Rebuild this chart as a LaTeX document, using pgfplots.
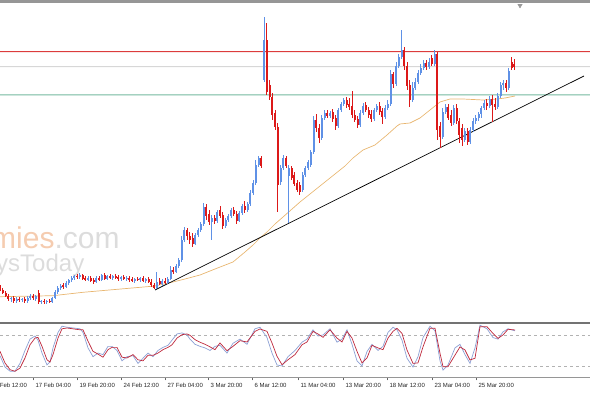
\documentclass[border=0pt]{standalone}
\usepackage{pgfplots}
\pgfplotsset{compat=1.18}
\usepackage{pgfplotstable}
\usepackage{fontspec}
\setmainfont{Liberation Sans}
\definecolor{bull}{RGB}{95,145,230}
\definecolor{bear}{RGB}{220,25,25}
\definecolor{maline}{RGB}{232,182,112}
\definecolor{levelred}{RGB}{220,60,60}
\definecolor{levelgreen}{RGB}{115,185,158}
\definecolor{levelgray}{RGB}{215,215,215}
\definecolor{stD}{RGB}{190,40,60}
\definecolor{stK}{RGB}{140,160,212}
\definecolor{framegray}{RGB}{150,150,150}
\pgfplotstableread{
i o h l c
0 287 285 291 290
1 290 288 294 293
2 293 291 297 296
3 296 294 301 299
4 299 297 302 298
5 298 296 303 301
6 301 297 303 299
7 299 297 302 300
8 300 298 302 299
9 299 297 303 301
10 301 296 303 298
11 298 294 300 296
12 296 294 300 298
13 299 295 301 296
14 293 290 304 302
15 302 300 304 301
16 301 299 304 302
17 302 300 304 301
18 301 299 303 302
19 302 297 303 298
20 298 290 299 292
21 292 286 294 288
22 288 284 290 286
23 285 283 289 287
24 287 281 288 283
25 283 279 285 280
26 280 276 282 278
27 278 275 280 276
28 276 274 279 277
29 277 273 279 275
30 275 274 280 279
31 278 276 281 280
32 280 276 281 278
33 278 276 282 281
34 280 278 284 282
35 282 276 283 278
36 278 276 281 280
37 280 274 281 275
38 275 273 280 279
39 279 275 280 276
40 276 274 279 278
41 278 275 280 276
42 276 274 279 278
43 277 275 281 279
44 279 276 281 277
45 277 275 280 279
46 279 276 281 278
47 278 276 282 280
48 279 277 282 281
49 281 278 283 279
50 279 277 281 280
51 280 277 282 278
52 278 276 282 281
53 281 278 283 279
54 279 277 283 282
55 282 279 287 285
56 285 283 289 288
57 288 272 289 282
58 281 278 285 284
59 284 279 286 281
60 281 278 284 283
61 283 277 284 279
62 279 266 280 270
63 270 267 274 272
64 272 264 273 266
65 266 258 268 260
66 260 236 262 240
67 240 227 242 230
68 230 228 240 236
69 236 232 244 240
70 238 233 247 244
71 244 233 245 235
72 235 228 237 230
73 230 222 232 224
74 224 203 226 207
75 207 204 220 216
76 214 210 225 222
77 222 215 240 218
78 218 215 224 221
79 221 210 223 212
80 210 206 218 216
81 215 212 229 226
82 226 218 228 220
83 220 214 222 216
84 216 208 218 210
85 210 207 216 214
86 214 211 224 221
87 221 211 222 213
88 213 204 215 206
89 206 201 213 210
90 210 202 212 204
91 204 190 206 193
92 193 180 195 183
93 183 160 185 165
94 165 156 167 158
95 158 156 168 166
96 80 17 82 40
97 40 23 95 92
98 85 80 100 97
99 97 93 120 115
100 113 110 130 127
101 127 123 212 185
102 182 165 185 168
103 168 155 170 158
104 158 156 168 166
105 176 165 223 168
106 168 166 180 178
107 175 172 186 184
108 183 180 192 190
109 185 182 195 192
110 190 172 192 175
111 175 166 177 168
112 168 160 170 162
113 165 150 167 152
114 152 116 154 120
115 120 114 132 128
116 128 124 143 138
117 138 115 140 118
118 118 110 120 113
119 113 110 118 116
120 116 111 118 113
121 112 109 122 119
122 118 115 130 126
123 126 108 128 110
124 110 102 112 104
125 104 98 106 100
126 100 97 108 105
127 104 98 110 107
128 106 91 118 115
129 115 110 122 120
130 119 116 128 125
131 125 110 127 113
132 113 103 115 106
133 105 102 112 110
134 110 107 118 115
135 114 110 122 119
136 119 108 121 110
137 110 104 112 106
138 106 102 115 112
139 111 108 124 117
140 117 105 119 108
141 108 100 110 104
142 104 70 106 74
143 74 72 88 84
144 84 62 86 66
145 66 54 68 57
146 57 30 59 50
147 50 47 70 66
148 66 62 90 86
149 85 80 107 100
150 100 82 102 88
151 88 78 90 82
152 82 70 84 73
153 73 64 75 68
154 68 60 70 63
155 63 60 70 67
156 67 58 69 62
157 58 55 66 64
158 64 50 66 54
159 54 52 140 130
160 126 122 148 137
161 137 108 139 112
162 112 104 114 107
163 107 104 120 118
164 115 110 126 123
165 123 105 125 108
166 108 104 124 121
167 121 118 143 135
168 128 124 146 140
169 140 128 142 131
170 131 128 145 142
171 142 127 144 130
172 130 118 132 121
173 121 115 124 118
174 118 112 121 114
175 114 106 118 108
176 108 100 110 103
177 103 99 110 106
178 106 96 108 99
179 99 95 122 105
180 104 98 110 107
181 107 93 109 96
182 96 82 98 85
183 85 80 90 83
184 83 80 92 88
185 88 68 90 71
186 62 57 70 68
187 64 59 70 67
}\candles
\begin{document}
\begin{tikzpicture}
\begin{axis}[
  at={(0pt,75pt)}, anchor=south west, scale only axis,
  width=590pt, height=318pt,
  xmin=0, xmax=590, ymin=0, ymax=318, y dir=reverse,
  hide axis, clip=true]
% watermark
\node[anchor=base west, font=\fontsize{30}{30}\selectfont, inner sep=0pt] at (axis cs:-9,249)
  {\textcolor[RGB]{245,204,176}{mies}\textcolor[RGB]{220,220,220}{.com}};
\node[anchor=base west, font=\fontsize{24}{24}\selectfont, inner sep=0pt, text={rgb,255:red,220;green,220;blue,220}] at (axis cs:-4,272)
  {ysToday};
% top frame and marker
\addplot[draw=framegray, mark=none, line width=3pt] coordinates {(0,1.5) (590,1.5)};
\addplot[only marks, mark=triangle*, mark size=2.5pt, mark options={rotate=180, fill=gray!80, draw=gray!80}] coordinates {(520,5.5)};
% horizontal levels (thin filled bands)
\addplot[fill=levelred, draw=none, mark=none] coordinates {(0,51.2) (590,51.2) (590,52.2) (0,52.2) (0,51.2)};
\addplot[fill=levelgray, draw=none, mark=none] coordinates {(0,66.2) (590,66.2) (590,67.2) (0,67.2) (0,66.2)};
\addplot[fill=levelgreen, draw=none, mark=none] coordinates {(0,94.5) (590,94.5) (590,95.5) (0,95.5) (0,94.5)};
% moving average
\addplot[draw=maline, mark=none, line width=0.7pt] coordinates {
(0,296.7) (53,295.7) (83,292.3) (155,286) (173,282) (185,279) (200,275) (215,269)
(233,262) (245,252) (253,245) (260,238) (267,232) (275,224) (283,217) (300,202)
(315,190) (330,178) (345,166) (353,158) (363,150) (375,145) (387,135) (397,126)
(400,124) (410,123) (420,118) (430,110) (440,102) (450,99) (463,99) (483,100)
(497,99) (505,98) (515,96)};
% trend line
\addplot[draw=black, mark=none, line width=0.7pt] coordinates {(155,290) (584,76)};
% wicks
\addplot[draw=none, mark=none, forget plot, error bars/.cd, y dir=both, y explicit, error mark=none,
  error bar style={draw=bull, line width=0.7pt}]
  table[x expr={\thisrow{c}<\thisrow{o} ? 2.75*\thisrow{i} : nan}, y expr={(\thisrow{h}+\thisrow{l})/2}, y error expr={(\thisrow{l}-\thisrow{h})/2}] {\candles};
\addplot[draw=none, mark=none, forget plot, error bars/.cd, y dir=both, y explicit, error mark=none,
  error bar style={draw=bear, line width=0.7pt}]
  table[x expr={\thisrow{c}<\thisrow{o} ? nan : 2.75*\thisrow{i}}, y expr={(\thisrow{h}+\thisrow{l})/2}, y error expr={(\thisrow{l}-\thisrow{h})/2}] {\candles};
% bodies
\addplot[draw=none, mark=none, forget plot, error bars/.cd, y dir=both, y explicit, error mark=none,
  error bar style={draw=bull, line width=2pt}]
  table[x expr={\thisrow{c}<\thisrow{o} ? 2.75*\thisrow{i} : nan}, y expr={(\thisrow{o}+\thisrow{c})/2}, y error expr={max(abs(\thisrow{o}-\thisrow{c})/2,0.6)}] {\candles};
\addplot[draw=none, mark=none, forget plot, error bars/.cd, y dir=both, y explicit, error mark=none,
  error bar style={draw=bear, line width=2pt}]
  table[x expr={\thisrow{c}<\thisrow{o} ? nan : 2.75*\thisrow{i}}, y expr={(\thisrow{o}+\thisrow{c})/2}, y error expr={max(abs(\thisrow{o}-\thisrow{c})/2,0.6)}] {\candles};
\end{axis}
\begin{axis}[
  at={(-20pt,16pt)}, anchor=south west, scale only axis,
  width=610pt, height=54pt,
  xmin=-20, xmax=590, ymin=-1.3, ymax=103.2,
  axis line style={draw=none}, ytick=\empty,
  xtick={-11,33,77,121,165,208,252,298,343,387,432,476},
  xticklabels={12 Feb 12:00,17 Feb 04:00,19 Feb 20:00,24 Feb 12:00,27 Feb 04:00,3 Mar 20:00,6 Mar 12:00,11 Mar 04:00,13 Mar 20:00,18 Mar 12:00,23 Mar 04:00,25 Mar 20:00},
  xtick pos=lower, tick align=outside, major tick length=3.5pt,
  xtick style={draw=black!60, line width=0.6pt},
  xticklabel style={anchor=west, yshift=-4.5pt, xshift=-1pt, font=\fontsize{6}{7}\selectfont, text=black!85},
  clip=false]
\addplot[draw=black!55, mark=none, line width=1.5pt] coordinates {(-20,103.2) (590,103.2)};
\addplot[draw=framegray, mark=none, line width=0.8pt] coordinates {(-20,-1.3) (590,-1.3)};
\addplot[draw=black!30, mark=none, dashed, line width=0.5pt] coordinates {(0,80) (590,80)};
\addplot[draw=black!30, mark=none, dashed, line width=0.5pt] coordinates {(0,20) (590,20)};
\addplot[draw=stK, mark=none, line width=0.7pt] coordinates {
(0,40)(5,18)(10,10)(15,10)(20,25)(25,50)(30,72)(35,78)(38,70)(42,45)(47,22)(50,28)(53,55)(58,85)(62,97)(67,95)(80,92)(83,85)(88,55)(93,38)(98,45)(103,42)(108,58)(112,58)(117,50)(122,30)(127,38)(133,40)(138,25)(143,35)(148,45)(153,38)(158,50)(163,56)(168,60)(172,70)(177,82)(182,84)(187,80)(190,72)(195,62)(200,58)(205,55)(210,50)(215,58)(220,60)(227,45)(233,64)(240,72)(247,62)(255,92)(260,95)(267,75)(272,45)(277,22)(282,20)(288,38)(295,50)(302,66)(307,72)(313,90)(318,78)(323,80)(330,92)(337,66)(342,72)(347,90)(352,62)(357,30)(362,20)(367,48)(372,62)(378,50)(383,58)(388,85)(393,95)(397,90)(402,70)(407,35)(413,18)(418,38)(423,75)(430,97)(435,88)(440,30)(443,12)(448,22)(455,55)(460,62)(465,42)(470,25)(475,55)(480,99)(487,92)(493,75)(498,72)(503,86)(508,92)(515,88)};
\addplot[draw=stD, mark=none, line width=0.7pt] coordinates {
(0,48.4)(5,25.8)(10,12.9)(15,9.8)(20,16)(25,35.5)(30,61)(35,74)(38,75.5)(42,58)(47,32)(50,27.7)(53,42)(58,74)(62,92)(67,93.5)(80,90)(83,90)(88,68)(93,48.4)(98,43)(103,37)(108,51.6)(112,56)(117,56)(122,37)(127,35.5)(133,42)(138,32)(143,30)(148,40.6)(153,40.6)(158,45)(163,51.6)(168,56)(172,61)(177,74)(182,80.6)(187,82)(190,79.4)(195,71)(200,66)(205,62)(210,57)(215,51.6)(220,64.5)(227,49.6)(233,58)(240,69)(247,66.5)(255,87)(260,91.6)(267,87)(272,64.5)(277,38.8)(282,22.5)(288,32)(295,42)(302,61)(307,66.5)(313,87)(318,82)(323,75.5)(330,90)(337,74)(342,66.5)(347,87)(352,74)(357,48.4)(362,25.8)(367,35.5)(372,60)(378,55)(383,51.6)(388,74)(393,87)(397,93)(402,83)(407,51)(413,25)(418,26)(423,57)(430,93)(435,93)(440,44.6)(443,18.7)(448,18.7)(455,41)(460,57)(465,51)(470,31.6)(475,35)(480,96)(487,96)(493,83)(498,73.5)(503,80)(508,91)(515,89.7)};
\end{axis}
\pgfresetboundingbox
\useasboundingbox (0,0) rectangle (590pt,393pt);
\end{tikzpicture}
\end{document}
